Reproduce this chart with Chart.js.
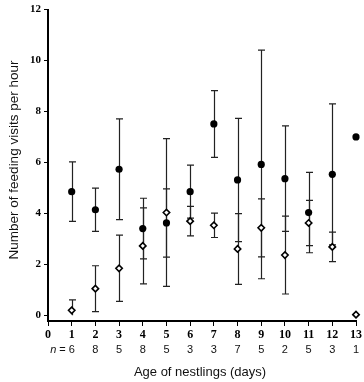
<!DOCTYPE html>
<html>
<head>
<meta charset="utf-8">
<script src="https://cdn.jsdelivr.net/npm/chart.js"></script>
<style>
  body { margin: 0; background: #fff; }
  canvas { display: block; }
</style>
</head>
<body>
<canvas id="chart1" width="364" height="382"></canvas>
<script>
const days = [1, 2, 3, 4, 5, 6, 7, 8, 9, 10, 11, 12, 13];
const nSizes = [6, 8, 5, 8, 5, 3, 3, 7, 5, 2, 5, 3, 1];
const filledMean = [4.85, 4.14, 5.73, 3.40, 3.62, 4.85, 7.51, 5.31, 5.92, 5.36, 4.03, 5.53, 7.00];
const filledSd = [1.17, 0.85, 1.98, 1.19, 1.34, 1.04, 1.31, 2.42, 4.49, 2.07, 1.58, 2.77, 0];
const openMean = [0.19, 1.04, 1.84, 2.72, 4.03, 3.69, 3.53, 2.60, 3.43, 2.36, 3.62, 2.68, 0.02];
const openSd = [0.41, 0.90, 1.30, 1.49, 2.90, 0.58, 0.48, 1.39, 1.14, 1.53, 0.89, 0.58, 0];
const yTicks = [0, 2, 4, 6, 8, 10, 12];

const serifBold = { family: '"Liberation Serif", "Times New Roman", serif', weight: 'bold', size: 12 };

// error bars drawn behind the markers
const errorBars = {
    id: 'errorBars',
    beforeDatasetsDraw(chart) {
        const ctx = chart.ctx;
        const x = chart.scales.x, y = chart.scales.y;
        const sets = [[filledMean, filledSd], [openMean, openSd]];
        ctx.save();
        ctx.strokeStyle = '#222';
        ctx.lineWidth = 1.2;
        sets.forEach(([m, s]) => {
            days.forEach((d, i) => {
                if (!s[i]) return;
                const px = Math.round(x.getPixelForValue(d)) + 0.5;
                const hi = m[i] + s[i];
                const lo = Math.max(0, m[i] - s[i]);
                const top = y.getPixelForValue(hi);
                const bot = y.getPixelForValue(lo);
                ctx.beginPath();
                ctx.moveTo(px, top);
                ctx.lineTo(px, bot);
                ctx.moveTo(px - 3.5, top);
                ctx.lineTo(px + 3.5, top);
                if (m[i] - s[i] > 0) {
                    ctx.moveTo(px - 3.5, bot);
                    ctx.lineTo(px + 3.5, bot);
                }
                ctx.stroke();
            });
        });
        ctx.restore();
    }
};

const labels = {
    id: 'labels',
    afterDraw(chart) {
        const ctx = chart.ctx;
        const x = chart.scales.x;
        ctx.save();
        ctx.fillStyle = '#111';
        ctx.textBaseline = 'middle';
        // sample sizes row
        ctx.font = '11px "Liberation Sans", Arial, sans-serif';
        ctx.textAlign = 'center';
        days.forEach((d, i) => ctx.fillText(String(nSizes[i]), x.getPixelForValue(d), 350));
        ctx.textAlign = 'right';
        const eqRight = x.getPixelForValue(1) - 6;
        ctx.fillText('=', eqRight, 350);
        const eqW = ctx.measureText('=').width;
        ctx.font = 'italic 11px "Liberation Sans", Arial, sans-serif';
        ctx.fillText('n', eqRight - eqW - 3, 350);
        // axis titles
        ctx.font = '13px "Liberation Sans", Arial, sans-serif';
        ctx.textAlign = 'center';
        ctx.fillText('Age of nestlings (days)', 200, 372);
        ctx.font = '13.5px "Liberation Sans", Arial, sans-serif';
        ctx.translate(14, 160);
        ctx.rotate(-Math.PI / 2);
        ctx.fillText('Number of feeding visits per hour', 0, 0);
        ctx.restore();
    }
};

new Chart(document.getElementById('chart1'), {
    type: 'scatter',
    data: {
        datasets: [{
            label: 'Filled',
            data: days.map((d, i) => ({ x: d, y: filledMean[i] })),
            pointStyle: 'circle',
            pointRadius: 3.6,
            backgroundColor: '#000',
            borderColor: '#000',
            borderWidth: 0,
            clip: false
        }, {
            label: 'Open',
            data: days.map((d, i) => ({ x: d, y: openMean[i] })),
            pointStyle: 'rectRot',
            pointRadius: 3.2,
            backgroundColor: '#fff',
            borderColor: '#000',
            borderWidth: 1.6,
            clip: false
        }]
    },
    options: {
        responsive: false,
        animation: false,
        layout: { padding: { top: 6, right: 8, left: 0, bottom: 0 } },
        plugins: {
            legend: { display: false },
            tooltip: { enabled: false }
        },
        scales: {
            x: {
                type: 'linear',
                min: 0,
                max: 13,
                ticks: { stepSize: 1, color: '#000', font: serifBold, padding: 2, maxRotation: 0 },
                grid: { drawOnChartArea: false, color: '#000', tickLength: 5 },
                border: { color: '#000', width: 2 },
                afterFit(s) { s.height = 61; }
            },
            y: {
                min: -0.23,
                max: 12,
                afterBuildTicks(s) { s.ticks = yTicks.map(v => ({ value: v })); },
                ticks: { color: '#000', font: { ...serifBold, size: 11 }, padding: 3 },
                grid: { drawOnChartArea: false, color: '#000', tickLength: 4 },
                border: { color: '#000', width: 2 },
                afterFit(s) { s.width = 48; }
            }
        }
    },
    plugins: [errorBars, labels]
});
</script>
</body>
</html>
